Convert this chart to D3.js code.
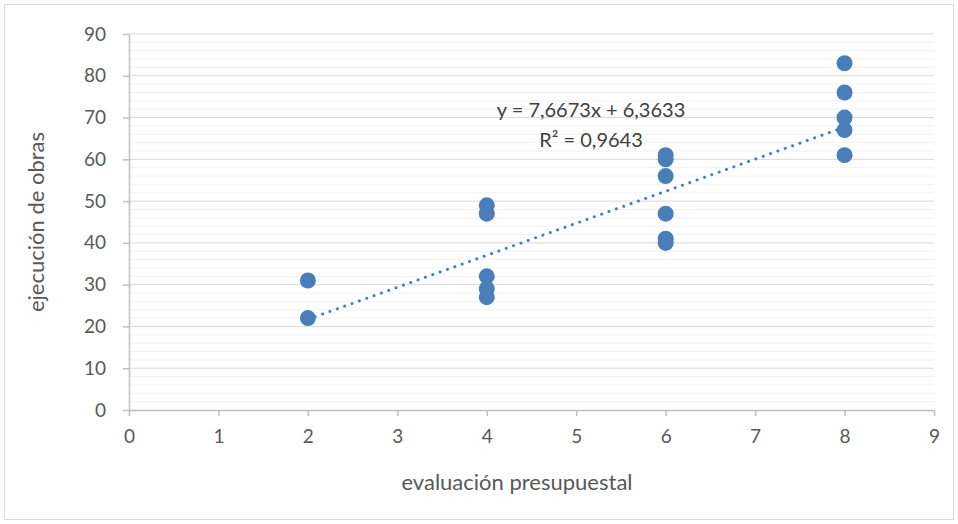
<!DOCTYPE html>
<html><head><meta charset="utf-8">
<script src="https://cdn.jsdelivr.net/npm/d3@7"></script>
<style>body{margin:0;background:#fff}svg{display:block}text{font-family:Lato,"Open Sans",sans-serif}</style>
</head><body><svg id="c" width="958" height="524"></svg>
<script>
const xValues = [2,2, 4,4,4,4,4, 6,6,6,6,6,6, 8,8,8,8,8];
const yValues = [31,22, 49,47,32,29,27, 61,60,56,47,41,40, 83,76,70,67,61];
const xTicks = [0,1,2,3,4,5,6,7,8,9];
const yTicks = [0,10,20,30,40,50,60,70,80,90];
const trendCoef = [7.6673, 6.3633]; // slope, intercept
const trendRange = [2, 8];
const eqLabel = "y = 7,6673x + 6,3633";
const r2Label = "R² = 0,9643";
const xTitle = "evaluación presupuestal";
const yTitle = "ejecución de obras";

const svg = d3.select("#c");
const L=129, R=934, T=34, B=410;
const x = d3.scaleLinear().domain([0,9]).range([L,R]);
const y = d3.scaleLinear().domain([0,90]).range([B,T]);
const col = "#4A7EBB";

svg.append("rect").attr("x",4.5).attr("y",4.5).attr("width",949).attr("height",515)
  .attr("fill","#fff").attr("stroke","#D9D9D9");

// minor gridlines
svg.append("g").selectAll("line").data(d3.range(2,90,2).filter(v=>v%10!==0)).join("line")
  .attr("x1",L).attr("x2",R).attr("y1",d=>y(d)).attr("y2",d=>y(d))
  .attr("stroke","#F2F2F2").attr("stroke-width",1);
// major gridlines
svg.append("g").selectAll("line").data(yTicks.slice(1)).join("line")
  .attr("x1",L).attr("x2",R).attr("y1",d=>y(d)).attr("y2",d=>y(d))
  .attr("stroke","#D9D9D9").attr("stroke-width",1);

// axes
const xa = svg.append("g").attr("transform",`translate(0,${B})`)
  .call(d3.axisBottom(x).tickValues(xTicks).tickSize(6).tickPadding(14).tickSizeOuter(0));
const ya = svg.append("g").attr("transform",`translate(${L},0)`)
  .call(d3.axisLeft(y).tickValues(yTicks).tickSize(6).tickPadding(17).tickSizeOuter(0));
[xa,ya].forEach(a=>{
  a.selectAll("path,line").attr("stroke","#BFBFBF").attr("stroke-width",1.5);
  a.selectAll("text").attr("fill","#595959").style("font-size","19px");
});

// trendline
svg.append("line")
  .attr("x1",x(trendRange[0])).attr("y1",y(trendCoef[0]*trendRange[0]+trendCoef[1]))
  .attr("x2",x(trendRange[1])).attr("y2",y(trendCoef[0]*trendRange[1]+trendCoef[1]))
  .attr("stroke",col).attr("stroke-width",3).attr("stroke-linecap","round")
  .attr("stroke-dasharray","0.1 7.7");

// points
svg.append("g").selectAll("circle").data(xValues.map((v,i)=>[v,yValues[i]])).join("circle")
  .attr("cx",d=>x(d[0])).attr("cy",d=>y(d[1])).attr("r",8).attr("fill",col);

// labels
svg.append("text").attr("x",591).attr("y",117).attr("text-anchor","middle")
  .attr("fill","#404040").style("font-size","20px").text(eqLabel);
svg.append("text").attr("x",591).attr("y",147).attr("text-anchor","middle")
  .attr("fill","#404040").style("font-size","20px").text(r2Label);
svg.append("text").attr("x",517).attr("y",490).attr("text-anchor","middle")
  .attr("fill","#595959").style("font-size","22px").text(xTitle);
svg.append("text").attr("transform",`translate(44,${(T+B)/2}) rotate(-90)`).attr("text-anchor","middle")
  .attr("fill","#595959").style("font-size","22px").text(yTitle);
</script></body></html>
